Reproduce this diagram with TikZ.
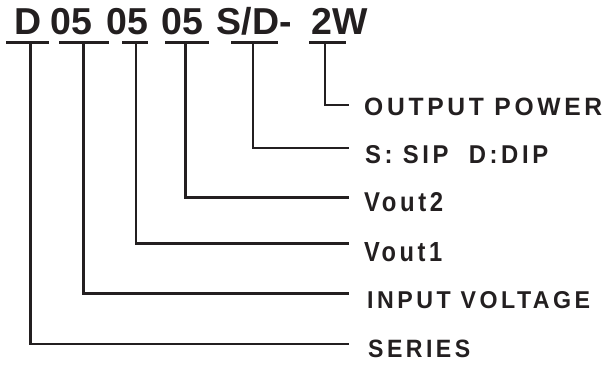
\documentclass[tikz,border=0pt]{standalone}
\usepackage{graphicx}
\usepackage{fontspec}
\setmainfont{Liberation Sans}
\newfontfamily\lblfont[LetterSpace=15]{Liberation Sans}
\definecolor{ink}{HTML}{231F20}
\begin{document}
\begin{tikzpicture}[x=1pt,y=-1pt,
  code/.style={inner sep=0pt, anchor=base west, text=ink,
    font=\fontsize{37.5}{40}\selectfont\bfseries},
  lbl/.style={inner sep=0pt, anchor=base west, text=ink,
    font=\lblfont\bfseries},
  uline/.style={draw=ink, line width=3pt},
  conn/.style={draw=ink, line width=2.8pt, line join=miter}]
\useasboundingbox (0,0) rectangle (608,365);

% code segments
\node[code] (tD)  at (14.5,34) {D};
\node[code] (t1)  at (50.5,34) {05};
\node[code] (t2)  at (106.5,34) {05};
\node[code] (t3)  at (161.5,34) {05};
\node[code] (tSD) at (216.5,34) {S/D-};
\node[code] (tW)  at (311.5,34) {2W};

% underlines
\draw[uline] (6,42.3) -- (49,42.3);
\draw[uline] (59,42.3) -- (109,42.3);
\draw[uline] (122,42.3) -- (148,42.3);
\draw[uline] (165,42.3) -- (209,42.3);
\draw[uline] (231,42.3) -- (278,42.3);
\draw[uline] (309,42.3) -- (346,42.3);

% connector start points (under the underlines)
\coordinate (cD)  at (30.7,42.3);
\coordinate (c1)  at (83.3,42.3);
\coordinate (c2)  at (136,42.3);
\coordinate (c3)  at (185.7,42.3);
\coordinate (cSD) at (253,42.3);
\coordinate (cW)  at (325,42.3);

% connector end points
\coordinate (eW)  at (349,105);
\coordinate (eSD) at (349,148);
\coordinate (e3)  at (349,197.3);
\coordinate (e2)  at (349,243.5);
\coordinate (e1)  at (349,293.3);
\coordinate (eD)  at (349,344);

% labels
\node[lbl] (lPow) at (364,115.5) {\resizebox{238pt}{17.5pt}{OUTPUT\ POWER}};
\node[lbl] (lPkg) at (365,163)   {\resizebox{183pt}{18pt}{S: SIP\ \ D:DIP}};
\node[lbl] (lV2)  at (364,211.5) {\resizebox{79pt}{19pt}{Vout2}};
\node[lbl] (lV1)  at (364,261)   {\resizebox{78pt}{19pt}{Vout1}};
\node[lbl] (lIn)  at (367,308.5) {\resizebox{223pt}{17pt}{INPUT VOLTAGE}};
\node[lbl] (lSer) at (368,357.5) {\resizebox{102pt}{17.5pt}{SERIES}};

% connectors
\draw[conn] (cW)  |- (eW);
\draw[conn] (cSD) |- (eSD);
\draw[conn] (c3)  |- (e3);
\draw[conn] (c2)  |- (e2);
\draw[conn] (c1)  |- (e1);
\draw[conn] (cD)  |- (eD);
\end{tikzpicture}
\end{document}
